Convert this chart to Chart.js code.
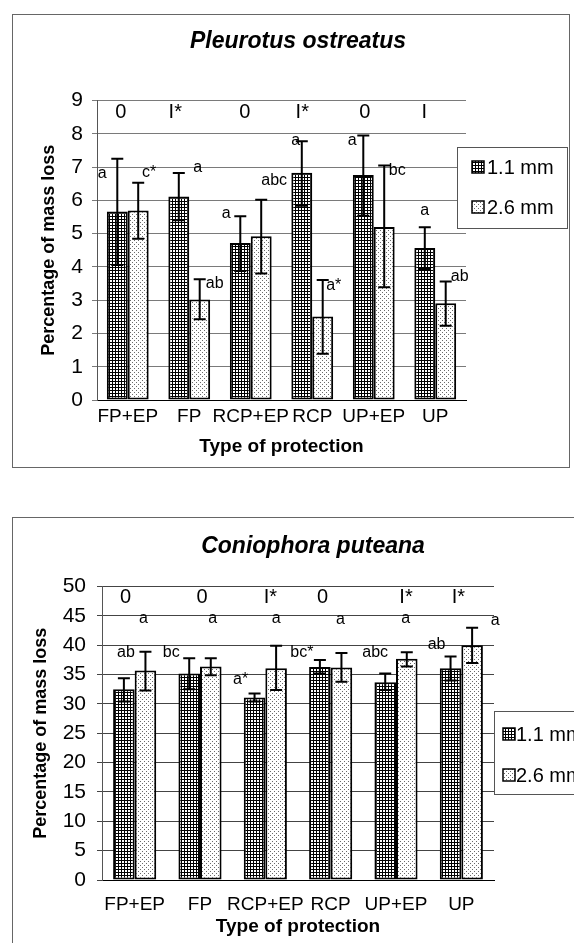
<!DOCTYPE html>
<html>
<head>
<meta charset="utf-8">
<script src="https://cdn.jsdelivr.net/npm/chart.js@4.4.1/dist/chart.umd.min.js"></script>
<style>
  body { margin: 0; background: #fff; width: 574px; height: 943px; overflow: hidden; position: relative; }
  .frame { position: absolute; border: 1px solid #666; background: #fff; }
  #f1 { left: 12px; top: 14px; width: 556px; height: 452px; }
  #f2 { left: 12px; top: 517px; width: 600px; height: 440px; }
  canvas { display: block; }
</style>
</head>
<body>
<div class="frame" id="f1"><canvas id="c1" width="556" height="452"></canvas></div>
<div class="frame" id="f2"><canvas id="c2" width="600" height="440"></canvas></div>
<script>
// ── Data ──

const categories = ['FP+EP', 'FP', 'RCP+EP', 'RCP', 'UP+EP', 'UP'];
const seriesNames = ['1.1 mm', '2.6 mm'];

// Pleurotus ostreatus
const pleuMean11 = [5.67, 6.12, 4.72, 6.83, 6.76, 4.57];
const pleuLow11  = [4.06, 5.40, 3.88, 5.84, 5.54, 3.94];
const pleuHigh11 = [7.25, 6.82, 5.52, 7.78, 7.95, 5.19];
const pleuMean26 = [5.70, 3.02, 4.92, 2.51, 5.20, 2.91];
const pleuLow26  = [4.85, 2.43, 3.80, 1.39, 3.39, 2.23];
const pleuHigh26 = [6.53, 3.63, 6.02, 3.61, 7.05, 3.56];
const pleuSig = ['0', 'I*', '0', 'I*', '0', 'I'];
const pleuLetters11 = ['a', 'a', 'a', 'a', 'a', 'a'];
const pleuLetters26 = ['c*', 'ab', 'abc', 'a*', 'bc', 'ab'];
const pleuLetterAt11 = [6.8, 7.0, 5.6, 7.8, 7.8, 5.7];
const pleuLetterAt26 = [6.83, 3.5, 6.6, 3.45, 6.9, 3.7];

// Coniophora puteana
const coniMean11 = [32.5, 35.2, 31.1, 36.3, 33.7, 36.1];
const coniLow11  = [30.4, 32.5, 30.4, 35.2, 32.4, 34.0];
const coniHigh11 = [34.4, 37.8, 31.8, 37.5, 35.2, 38.1];
const coniMean26 = [35.7, 36.4, 36.1, 36.2, 37.7, 40.0];
const coniLow26  = [32.3, 34.9, 32.4, 33.8, 36.4, 37.0];
const coniHigh26 = [38.9, 37.8, 39.9, 38.7, 38.8, 43.0];
const coniSig = ['0', '0', 'I*', '0', 'I*', 'I*'];
const coniLetters11 = ['ab', 'bc', 'a*', 'bc*', 'abc', 'ab'];
const coniLetters26 = ['a', 'a', 'a', 'a', 'a', 'a'];
const coniLetterAt11 = [38.8, 38.7, 34.1, 38.7, 38.7, 40.1];
const coniLetterAt26 = [44.5, 44.5, 44.5, 44.3, 44.5, 44.2];

// ── Style ──

const FONT = '"Liberation Sans", Arial, sans-serif';
Chart.defaults.font.family = FONT;
Chart.defaults.color = '#000';

const tile = (w, h, draw) => {
  const c = document.createElement('canvas');
  c.width = w; c.height = h;
  const g = c.getContext('2d');
  g.fillStyle = '#fff';
  g.fillRect(0, 0, w, h);
  draw(g);
  return g.createPattern(c, 'repeat');
};
const hatch = tile(3, 3, g => { g.fillStyle = '#000'; g.fillRect(0, 0, 3, 1); g.fillRect(0, 0, 1, 3); });
const dots = tile(4, 4, g => { g.fillStyle = '#6a6a6a'; g.fillRect(1, 1, 1, 1); g.fillRect(3, 3, 1, 1); });

// ── Plugins ──

const errorBars = {
  id: 'errorBars',
  afterDatasetsDraw(chart, args, o) {
    const ctx = chart.ctx, y = chart.scales.y;
    ctx.save();
    ctx.strokeStyle = '#000';
    ctx.lineWidth = 2;
    o.sets.forEach((s, i) => {
      chart.getDatasetMeta(i).data.forEach((bar, j) => {
        const top = y.getPixelForValue(s.high[j]);
        const bot = y.getPixelForValue(s.low[j]);
        ctx.beginPath();
        ctx.moveTo(bar.x, top); ctx.lineTo(bar.x, bot);
        ctx.moveTo(bar.x - o.cap, top); ctx.lineTo(bar.x + o.cap, top);
        ctx.moveTo(bar.x - o.cap, bot); ctx.lineTo(bar.x + o.cap, bot);
        ctx.stroke();
      });
    });
    ctx.restore();
  }
};

const marks = {
  id: 'marks',
  afterDatasetsDraw(chart, args, o) {
    const ctx = chart.ctx, x = chart.scales.x, y = chart.scales.y;
    ctx.save();
    ctx.fillStyle = '#000';
    ctx.textAlign = 'center';
    ctx.textBaseline = 'middle';
    ctx.font = `${o.sigSize}px ${FONT}`;
    o.sig.forEach((t, j) => ctx.fillText(t, x.getPixelForValue(j) + o.sigDx[j], y.getPixelForValue(o.sigAt)));
    ctx.font = `${o.letterSize}px ${FONT}`;
    o.letters.forEach((l, i) => {
      chart.getDatasetMeta(i).data.forEach((bar, j) => {
        ctx.fillText(l.text[j], bar.x + l.dx[j], y.getPixelForValue(l.at[j]));
      });
    });
    ctx.restore();
  }
};

const boxLegend = {
  id: 'boxLegend',
  afterDraw(chart, args, o) {
    const ctx = chart.ctx;
    ctx.save();
    ctx.fillStyle = '#fff';
    ctx.fillRect(o.x, o.y, o.w, o.h);
    ctx.strokeStyle = '#555';
    ctx.lineWidth = 1;
    ctx.strokeRect(o.x + 0.5, o.y + 0.5, o.w, o.h);
    ctx.font = `20px ${FONT}`;
    ctx.textBaseline = 'middle';
    chart.data.datasets.forEach((ds, i) => {
      const cy = o.y + o.first + i * o.step;
      const bx = o.x + o.pad;
      ctx.fillStyle = ds.backgroundColor;
      ctx.fillRect(bx, cy - 6, 12, 12);
      ctx.strokeStyle = '#000';
      ctx.lineWidth = 1.5;
      ctx.strokeRect(bx, cy - 6, 12, 12);
      ctx.fillStyle = '#000';
      ctx.fillText(ds.label, bx + o.gap, cy + 1);
    });
    ctx.restore();
  }
};

// ── Chart builder ──

function makeChart(id, d) {
  return new Chart(document.getElementById(id), {
    type: 'bar',
    data: {
      labels: categories,
      datasets: [
        { label: seriesNames[0], data: d.mean11, backgroundColor: hatch, borderColor: '#000', borderWidth: 2, borderSkipped: false },
        { label: seriesNames[1], data: d.mean26, backgroundColor: dots, borderColor: '#000', borderWidth: 2, borderSkipped: false },
      ],
    },
    options: {
      responsive: false,
      animation: false,
      categoryPercentage: d.catPct,
      barPercentage: 1,
      layout: { padding: { left: d.padLeft, bottom: d.padBottom } },
      plugins: {
        legend: { display: false },
        tooltip: { enabled: false },
        title: {
          display: true, text: d.title, color: '#000',
          font: { size: 23, weight: 'bold', style: 'italic' },
          padding: d.titlePad,
        },
        errorBars: {
          cap: 6,
          sets: [{ low: d.low11, high: d.high11 }, { low: d.low26, high: d.high26 }],
        },
        marks: {
          sig: d.sig, sigAt: d.sigAt, sigDx: d.sigDx, sigSize: 20, letterSize: 16,
          letters: [
            { text: d.letters11, at: d.letterAt11, dx: d.dx11 },
            { text: d.letters26, at: d.letterAt26, dx: d.dx26 },
          ],
        },
        boxLegend: d.legend,
      },
      scales: {
        x: {
          grid: { display: false, drawTicks: false },
          border: { display: true, color: '#000', width: 1 },
          ticks: { font: { size: 19 }, color: '#000', padding: d.xTickPad, maxRotation: 0, minRotation: 0, autoSkip: false },
          title: { display: true, text: 'Type of protection', color: '#000', font: { size: 19, weight: 'bold' }, padding: { top: 0, bottom: d.xTitlePad } },
          afterFit: s => { s.height = d.xHeight; },
        },
        y: {
          min: 0, max: d.max,
          ticks: { stepSize: d.step, font: { size: 21 }, color: '#000', padding: d.yTickPad },
          grid: { color: d.gridColor, tickLength: 5, lineWidth: 1 },
          border: { color: '#555', width: 1 },
          title: { display: true, text: 'Percentage of mass loss', color: '#000', font: { size: 18, weight: 'bold' }, padding: { top: d.yTitlePad, bottom: 0 } },
          afterFit: s => { s.width = d.yWidth; },
        },
        spare: {
          type: 'linear', position: 'right',
          grid: { display: false, drawTicks: false }, border: { display: false }, ticks: { display: false },
          afterFit: s => { s.width = d.rightRoom; },
        },
      },
    },
    plugins: [errorBars, marks, boxLegend],
  });
}

makeChart('c1', {
  title: 'Pleurotus ostreatus',
  mean11: pleuMean11, low11: pleuLow11, high11: pleuHigh11,
  mean26: pleuMean26, low26: pleuLow26, high26: pleuHigh26,
  sig: pleuSig, sigAt: 8.64, sigDx: [-7, -14, -6, -10, -9, -11],
  letters11: pleuLetters11, letterAt11: pleuLetterAt11, dx11: [-15, 19, -14, -6, -11, 0],
  letters26: pleuLetters26, letterAt26: pleuLetterAt26, dx26: [11, 15, 13, 11, 13, 14],
  max: 9, step: 1, catPct: 0.68, gridColor: '#7a7a7a',
  padLeft: 14, padBottom: 0, titlePad: { top: 13, bottom: 45 },
  yWidth: 70, yTickPad: 9, yTitlePad: 11,
  xHeight: 67, xTickPad: 5, xTitlePad: 9, rightRoom: 103,
  legend: { x: 444, y: 132, w: 110, h: 81, first: 20, step: 40, pad: 15, gap: 15 },
});

makeChart('c2', {
  title: 'Coniophora puteana',
  mean11: coniMean11, low11: coniLow11, high11: coniHigh11,
  mean26: coniMean26, low26: coniLow26, high26: coniHigh26,
  sig: coniSig, sigAt: 48.1, sigDx: [-9, 2, 5, -8, 10, -3],
  letters11: coniLetters11, letterAt11: coniLetterAt11, dx11: [2, -18, -14, -18, -10, -14],
  letters26: coniLetters26, letterAt26: coniLetterAt26, dx26: [-2, 2, 0, -1, -1, 23],
  max: 50, step: 5, catPct: 0.66, gridColor: '#444',
  padLeft: 0, padBottom: 17, titlePad: { top: 15, bottom: 26 },
  yWidth: 89, yTickPad: 11, yTitlePad: 17,
  xHeight: 61, xTickPad: 13, xTitlePad: 3, rightRoom: 119,
  legend: { x: 481, y: 193, w: 110, h: 83, first: 23, step: 41, pad: 9, gap: 13 },
});
</script>
</body>
</html>
